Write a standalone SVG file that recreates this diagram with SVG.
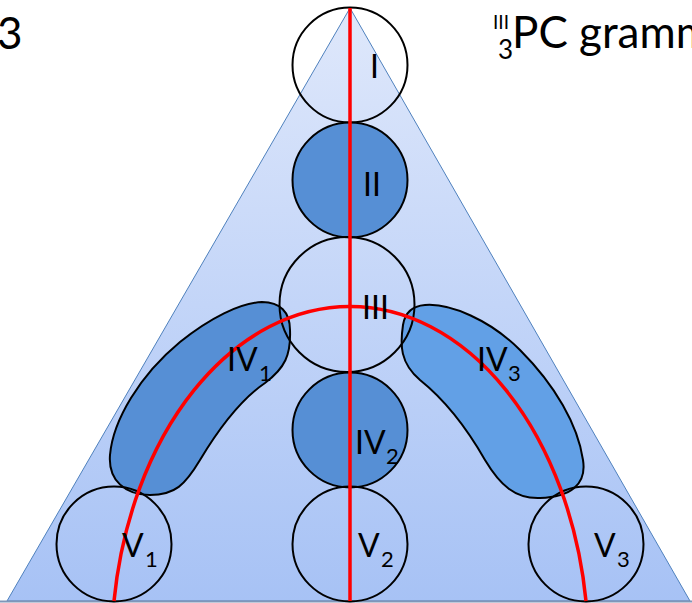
<svg xmlns="http://www.w3.org/2000/svg" width="692" height="603" viewBox="0 0 692 603">
<defs>
<linearGradient id="triGrad" x1="0" y1="8" x2="0" y2="601" gradientUnits="userSpaceOnUse">
<stop offset="0" stop-color="#dfe8fb"/>
<stop offset="1" stop-color="#a7c2f5"/>
</linearGradient>
<style>
.ring{fill:none;stroke:#000;stroke-width:2}
.dark{fill:#568fd5;stroke:#000;stroke-width:2}
.light{fill:#62a0e6;stroke:#000;stroke-width:2}
.red{fill:none;stroke:#ff0000;stroke-width:3.5}
.lbl{font-family:Lato,"Liberation Sans",sans-serif;font-size:32px;fill:#000}
.sub{font-size:22px}
.hdr{font-family:Lato,"Liberation Sans",sans-serif;font-size:44px;fill:#000}
</style>
</defs>
<rect width="692" height="603" fill="#fff"/>
<g id="triangle">
<polygon points="350,8 7,601 690,601" fill="url(#triGrad)" stroke="#4f81bd" stroke-width="1"/>
<line x1="0" y1="601.5" x2="692" y2="601.5" stroke="#8096b8" stroke-width="2"/>
</g>
<g id="node-IV1"><path class="dark" d="M 262 302 C 280 302 290 312 290 330 C 291 355 285 368 265 383 C 240 400 218 430 200 460 C 185 485 175 495 150 495 C 125 495 108 480 110 455 C 113 420 140 375 180 342 C 210 318 240 303 262 302 Z"/></g>
<g id="node-IV3"><path class="light" d="M 425 305 C 450 303 490 320 520 350 C 555 385 578 425 583 460 C 587 485 570 497 540 498 C 515 499 500 485 485 460 C 465 425 445 400 420 380 C 400 363 400 345 403 325 C 405 312 412 306 425 305 Z"/></g>
<g id="node-I"><circle class="ring" cx="350" cy="65" r="57.5"/></g>
<g id="node-II"><circle class="dark" cx="350" cy="180" r="57.5"/></g>
<g id="node-III"><circle class="ring" cx="347" cy="304.5" r="67.5"/></g>
<g id="node-IV2"><circle class="dark" cx="350" cy="430" r="57.5"/></g>
<g id="node-V1"><circle class="ring" cx="114" cy="544" r="57.5"/></g>
<g id="node-V2"><circle class="ring" cx="350" cy="544" r="57.5"/></g>
<g id="node-V3"><circle class="ring" cx="586" cy="544" r="57.5"/></g>
<g id="connectors">
<line class="red" x1="350" y1="8" x2="350" y2="601"/>
<path class="red" d="M 114 601 A 238.4 343 0 0 1 586 601"/>
</g>
<g id="labels">
<text class="lbl" x="370" y="78">I</text>
<text class="lbl" x="363" y="196">II</text>
<text class="lbl" x="362" y="319">III</text>
<text class="lbl" x="227" y="371">IV<tspan class="sub" x="259" y="381">1</tspan></text>
<text class="lbl" x="477" y="371">IV<tspan class="sub" x="508" y="381">3</tspan></text>
<text class="lbl" x="355" y="454">IV<tspan class="sub" x="386" y="464">2</tspan></text>
<text class="lbl" x="122" y="557">V<tspan class="sub" x="145" y="567">1</tspan></text>
<text class="lbl" x="358" y="557">V<tspan class="sub" x="381" y="567">2</tspan></text>
<text class="lbl" x="594" y="557">V<tspan class="sub" x="617" y="567">3</tspan></text>
</g>
<g id="header">
<text class="hdr" x="-3" y="49">3</text>
<text class="hdr" x="512" y="48"><tspan font-size="19" x="493" y="29">III</tspan><tspan font-size="26" x="498" y="59">3</tspan><tspan x="512" y="48">PC gramm</tspan></text>
</g>
</svg>
